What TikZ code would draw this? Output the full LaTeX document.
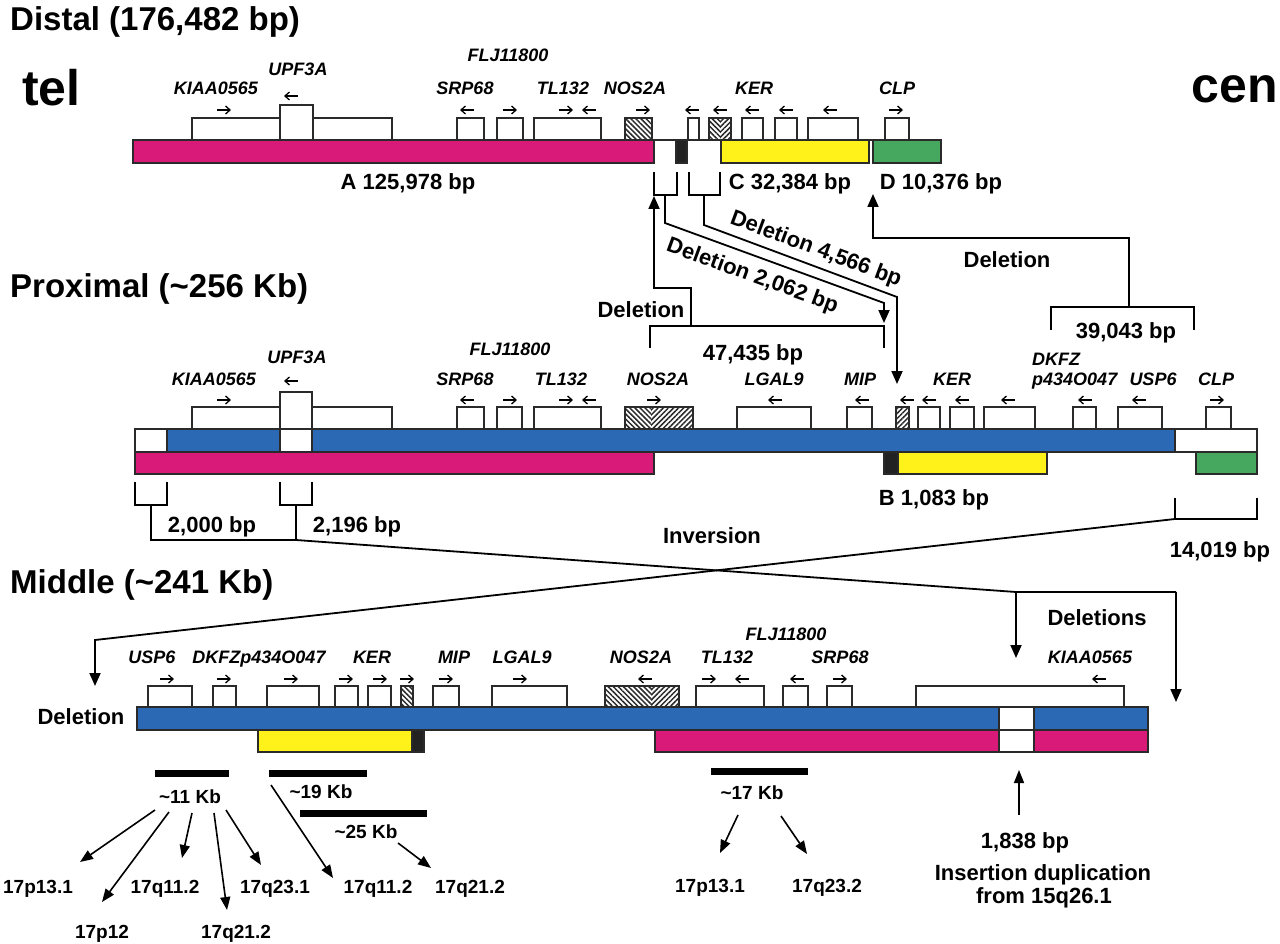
\documentclass[tikz,border=0pt]{standalone}
\usepackage{fontspec}
\setmainfont{Liberation Sans}
\usetikzlibrary{arrows.meta,patterns.meta}
\definecolor{mag}{HTML}{DA1A78}
\definecolor{blu}{HTML}{2C69B5}
\definecolor{yel}{HTML}{FFF21A}
\definecolor{grn}{HTML}{45A85E}
\definecolor{blk}{HTML}{222222}
\definecolor{ol}{HTML}{2A2A2A}
\tikzset{
  outl/.style={draw=ol, line width=1.3pt},
  genebox/.style={outl, fill=white},
  patL/.style={pattern={Lines[angle=-45,distance=3.6pt,line width=1.5pt]}, pattern color=ol},
  patR/.style={pattern={Lines[angle=45,distance=3.6pt,line width=1.5pt]}, pattern color=ol},
  garr/.style={line width=1.3pt, -{Straight Barb[length=4.5pt,width=8pt]}},
  glabel/.style={font=\bfseries\itshape\fontsize{18}{20}\selectfont, anchor=base, inner sep=0pt},
  numlabel/.style={font=\bfseries\fontsize{22}{24}\selectfont, anchor=base, inner sep=0pt},
  smlabel/.style={font=\bfseries\fontsize{19}{21}\selectfont, anchor=base, inner sep=0pt},
  ttl/.style={font=\bfseries\fontsize{33}{36}\selectfont, anchor=base west, inner sep=0pt},
  bigtxt/.style={font=\bfseries\fontsize{50}{54}\selectfont, inner sep=0pt},
  conn/.style={line width=1.8pt, black},
  tipped/.style={conn, -{Triangle[length=13pt,width=11pt]}},
  thinarr/.style={line width=1.6pt, -{Triangle[length=13pt,width=10pt]}},
  kbbar/.style={line width=7pt},
}
\newcommand\arrR[2]{\draw[garr] (#1-7,#2) -- (#1+7,#2);}
\newcommand\arrL[2]{\draw[garr] (#1+7,#2) -- (#1-7,#2);}
\begin{document}
\begin{tikzpicture}[x=1pt,y=-1pt]
\useasboundingbox (0,0) rectangle (1280,944);
\fill[white] (0,0) rectangle (1280,944);

% ================= DISTAL =================
\node[ttl] (tDist) at (10,31) {Distal (176,482 bp)};
\node[bigtxt, anchor=base west] (tel) at (22,106) {tel};
\node[bigtxt, anchor=base east] (cen) at (1278,103) {cen};

\draw[outl, fill=mag] (133,140) rectangle (654,163);
\draw[outl, fill=blk] (676,140) rectangle (687,163);
\draw[outl, fill=yel] (721,140) rectangle (869,163);
\draw[outl, fill=grn] (873,140) rectangle (941,163);
\draw[outl] (133,140) -- (941,140);

\draw[genebox] (192,118) rectangle (392,140);
\draw[genebox] (280,105) rectangle (313,140);
\draw[genebox] (457,118) rectangle (484,140);
\draw[genebox] (497,118) rectangle (523,140);
\draw[genebox] (534,118) rectangle (601,140);
\fill[patL] (625,118) rectangle (652,140);
\draw[outl] (625,118) rectangle (652,140);
\draw[genebox] (688,118) rectangle (699,140);
\fill[patL] (709,118) rectangle (720,140);
\fill[patR] (720,118) rectangle (731,140);
\draw[outl] (709,118) rectangle (731,140);
\draw[genebox] (742,118) rectangle (763,140);
\draw[genebox] (775,118) rectangle (797,140);
\draw[genebox] (808,118) rectangle (858,140);
\draw[genebox] (885,118) rectangle (909,140);

\arrR{224}{110} \arrL{291}{96} \arrL{467}{110} \arrR{510}{110}
\arrR{566}{110} \arrL{589}{110} \arrR{643}{110} \arrL{692}{110}
\arrL{720}{110} \arrL{752}{110} \arrL{786}{110} \arrL{830}{110}
\arrR{896}{110}

\node[glabel] (dKIAA) at (216,95) {KIAA0565};
\node[glabel] (dUPF) at (298,76) {UPF3A};
\node[glabel] (dFLJ) at (508,62) {FLJ11800};
\node[glabel] (dSRP) at (465,95) {SRP68};
\node[glabel] (dTL) at (563,95) {TL132};
\node[glabel] (dNOS) at (635,95) {NOS2A};
\node[glabel] (dKER) at (754,95) {KER};
\node[glabel] (dCLP) at (897,95) {CLP};

\node[numlabel] (lA) at (408,190) {A 125,978 bp};
\node[numlabel] (lC) at (790,190) {C 32,384 bp};
\node[numlabel] (lD) at (941,190) {D 10,376 bp};

% brackets under distal
\draw[conn] (654,172) -- (654,195) -- (677,195) -- (677,172);
\draw[conn] (689,172) -- (689,195) -- (720,195) -- (720,172);
\coordinate (b1c) at (665,195);
\coordinate (b2c) at (704,195);
\coordinate (b1k) at (665,223);
\coordinate (b2k) at (704,225);
\coordinate (d2k) at (884,303);
\coordinate (d2e) at (884,323);
\coordinate (d4k) at (897,297);
\coordinate (d4e) at (897,384);
\draw[tipped] (b1c) -- (b1k) -- node[sloped, below=9pt, pos=0.43, numlabel, anchor=north] {Deletion 2,062 bp} (d2k) -- (d2e);
\draw[tipped] (b2c) -- (b2k) -- node[sloped, above=5pt, pos=0.55, numlabel, anchor=south] {Deletion 4,566 bp} (d4k) -- (d4e);

% left deletion arrow (47,435)
\coordinate (p47l) at (650,348);
\coordinate (p47r) at (884,348);
\coordinate (p47m) at (691,326);
\coordinate (up1k) at (691,288);
\coordinate (up1j) at (654,288);
\coordinate (up1e) at (654,196);
\draw[conn] (p47l) -- (650,326) -- (884,326) -- (p47r);
\draw[tipped] (p47m) -- (up1k) -- (up1j) -- (up1e);
\node[numlabel] (lDel1) at (641,317) {Deletion};
\node[numlabel] (l47) at (753,360) {47,435 bp};

% D deletion arrow (39,043)
\coordinate (p39l) at (1051,330);
\coordinate (p39r) at (1194,330);
\coordinate (p39m) at (1129,307);
\coordinate (up2k) at (1129,238);
\coordinate (up2j) at (873,238);
\coordinate (up2e) at (873,194);
\draw[conn] (p39l) -- (1051,307) -- (1194,307) -- (p39r);
\draw[tipped] (p39m) -- (up2k) -- (up2j) -- (up2e);
\node[numlabel] (lDel2) at (1007,268) {Deletion};
\node[numlabel] (l39) at (1126,338) {39,043 bp};

% ================= PROXIMAL =================
\node[ttl] (tProx) at (10,297) {Proximal (\textasciitilde256 Kb)};

\draw[outl, fill=white] (135,429) rectangle (167,452);
\draw[outl, fill=blu] (167,429) rectangle (1175,452);
\draw[outl, fill=white] (1175,429) rectangle (1257,452);
\draw[outl, fill=mag] (135,452) rectangle (654,474);
\draw[outl, fill=blk] (884,452) rectangle (898,474);
\draw[outl, fill=yel] (898,452) rectangle (1047,474);
\draw[outl, fill=grn] (1196,452) rectangle (1257,474);

\draw[genebox] (192,407) rectangle (392,429);
\draw[genebox] (280,392) rectangle (312,452);
\draw[outl] (280,429) -- (312,429);
\draw[genebox] (457,407) rectangle (484,429);
\draw[genebox] (497,407) rectangle (522,429);
\draw[genebox] (534,407) rectangle (601,429);
\fill[patL] (625,407) rectangle (651,429);
\fill[patR] (651,407) rectangle (693,429);
\draw[outl] (625,407) rectangle (693,429);
\draw[genebox] (737,407) rectangle (811,429);
\draw[genebox] (847,407) rectangle (872,429);
\fill[patR] (896,407) rectangle (909,429);
\draw[outl] (896,407) rectangle (909,429);
\draw[genebox] (918,407) rectangle (940,429);
\draw[genebox] (950,407) rectangle (974,429);
\draw[genebox] (984,407) rectangle (1035,429);
\draw[genebox] (1073,407) rectangle (1096,429);
\draw[genebox] (1118,407) rectangle (1162,429);
\draw[genebox] (1206,407) rectangle (1231,429);

\arrR{224}{400} \arrL{291}{381} \arrL{467}{400} \arrR{510}{400}
\arrR{566}{400} \arrL{589}{400} \arrR{654}{400} \arrL{775}{400}
\arrL{862}{400} \arrL{907}{400} \arrL{929}{400} \arrL{962}{400}
\arrL{1008}{400} \arrL{1085}{400} \arrL{1139}{400} \arrR{1217}{400}

\node[glabel] (pKIAA) at (214,385) {KIAA0565};
\node[glabel] (pUPF) at (297,363) {UPF3A};
\node[glabel] (pFLJ) at (510,355) {FLJ11800};
\node[glabel] (pSRP) at (465,385) {SRP68};
\node[glabel] (pTL) at (561,385) {TL132};
\node[glabel] (pNOS) at (658,385) {NOS2A};
\node[glabel] (pLGAL) at (774,385) {LGAL9};
\node[glabel] (pMIP) at (860,385) {MIP};
\node[glabel] (pKER) at (952,385) {KER};
\node[glabel, anchor=base west] (pDK1) at (1032,365) {DKFZ};
\node[glabel, anchor=base west] (pDK2) at (1032,385) {p434O047};
\node[glabel] (pUSP) at (1153,385) {USP6};
\node[glabel] (pCLP) at (1216,385) {CLP};

\node[numlabel] (lB) at (934,505) {B 1,083 bp};

% brackets under proximal & inversion
\draw[conn] (135,482) -- (135,505) -- (167,505) -- (167,482);
\draw[conn] (280,482) -- (280,505) -- (312,505) -- (312,482);
\draw[conn] (1175,498) -- (1175,519) -- (1257,519) -- (1257,498);
\coordinate (k1) at (151,505);
\coordinate (k1b) at (151,540);
\coordinate (k2) at (296,505);
\coordinate (k2b) at (296,540);
\coordinate (dl) at (1016,592);
\coordinate (dr) at (1176,592);
\coordinate (dlE) at (1016,658);
\coordinate (drE) at (1176,702);
\coordinate (k3) at (1175,519);
\coordinate (k3b) at (95,640);
\coordinate (k3E) at (95,686);
\draw[conn] (k1) -- (k1b) -- (k2b);
\draw[conn] (k2) -- (k2b) -- (dl) -- (dr);
\draw[tipped] (dl) -- (dlE);
\draw[tipped] (dr) -- (drE);
\draw[tipped] (k3) -- (k3b) -- (k3E);

\node[numlabel] (l2000) at (212,532) {2,000 bp};
\node[numlabel] (l2196) at (357,532) {2,196 bp};
\node[numlabel] (lInv) at (712,543) {Inversion};
\node[numlabel] (l14019) at (1220,557) {14,019 bp};
\node[numlabel] (lDels) at (1097,625) {Deletions};

% ================= MIDDLE =================
\node[ttl] (tMid) at (10,593) {Middle (\textasciitilde241 Kb)};
\node[numlabel] (lDel3) at (81,724) {Deletion};

\draw[outl, fill=blu] (137,707) rectangle (999,730);
\draw[outl, fill=white] (999,707) rectangle (1034,730);
\draw[outl, fill=blu] (1034,707) rectangle (1148,730);
\draw[outl, fill=mag] (655,730) rectangle (999,752);
\draw[outl, fill=white] (999,730) rectangle (1034,752);
\draw[outl, fill=mag] (1034,730) rectangle (1148,752);
\draw[outl, fill=yel] (258,730) rectangle (412,752);
\draw[outl, fill=blk] (412,730) rectangle (424,752);

\draw[genebox] (148,686) rectangle (192,707);
\draw[genebox] (213,686) rectangle (236,707);
\draw[genebox] (267,686) rectangle (319,707);
\draw[genebox] (335,686) rectangle (358,707);
\draw[genebox] (368,686) rectangle (391,707);
\fill[patL] (401,686) rectangle (413,707);
\draw[outl] (401,686) rectangle (413,707);
\draw[genebox] (433,686) rectangle (459,707);
\draw[genebox] (492,686) rectangle (567,707);
\fill[patL] (605,686) rectangle (652,707);
\fill[patR] (652,686) rectangle (679,707);
\draw[outl] (605,686) rectangle (679,707);
\draw[genebox] (696,686) rectangle (764,707);
\draw[genebox] (783,686) rectangle (808,707);
\draw[genebox] (827,686) rectangle (852,707);
\draw[genebox] (916,686) rectangle (1124,707);

\arrR{167}{679} \arrR{224}{679} \arrR{291}{679} \arrR{346}{679}
\arrR{380}{679} \arrR{407}{679} \arrR{446}{679} \arrR{520}{679}
\arrL{645}{679} \arrR{709}{679} \arrL{742}{679} \arrL{797}{679}
\arrR{840}{679} \arrL{1099}{679}

\node[glabel] (mUSP) at (152,663) {USP6};
\node[glabel] (mDK) at (259,663) {DKFZp434O047};
\node[glabel] (mKER) at (372,663) {KER};
\node[glabel] (mMIP) at (454,663) {MIP};
\node[glabel] (mLGAL) at (522,663) {LGAL9};
\node[glabel] (mNOS) at (641,663) {NOS2A};
\node[glabel] (mTL) at (727,663) {TL132};
\node[glabel] (mFLJ) at (786,640) {FLJ11800};
\node[glabel] (mSRP) at (840,663) {SRP68};
\node[glabel] (mKIAA) at (1090,663) {KIAA0565};

% ================= BOTTOM =================
\draw[kbbar] (155,773) -- (229,773);
\draw[kbbar] (269,773) -- (367,773);
\draw[kbbar] (300,813) -- (427,813);
\draw[kbbar] (711,771) -- (808,771);

\node[smlabel] (k11) at (190,803) {\textasciitilde11 Kb};
\node[smlabel] (k19) at (321,798) {\textasciitilde19 Kb};
\node[smlabel] (k25) at (366,838) {\textasciitilde25 Kb};
\node[smlabel] (k17) at (752,799) {\textasciitilde17 Kb};

\node[smlabel] (c1) at (38,893) {17p13.1};
\node[smlabel] (c2) at (165,893) {17q11.2};
\node[smlabel] (c3) at (275,893) {17q23.1};
\node[smlabel] (c4) at (378,893) {17q11.2};
\node[smlabel] (c5) at (470,893) {17q21.2};
\node[smlabel] (c6) at (102,938) {17p12};
\node[smlabel] (c7) at (236,938) {17q21.2};
\node[smlabel] (c8) at (710,892) {17p13.1};
\node[smlabel] (c9) at (827,892) {17q23.2};

\coordinate (s1) at (155,810); \coordinate (e1) at (80,862);
\coordinate (s2) at (169,812); \coordinate (e2) at (102,902);
\coordinate (s3) at (192,813); \coordinate (e3) at (182,858);
\coordinate (s4) at (214,813); \coordinate (e4) at (227,910);
\coordinate (s5) at (226,810); \coordinate (e5) at (261,865);
\coordinate (s6) at (271,785); \coordinate (e6) at (333,878);
\coordinate (s7) at (398,843); \coordinate (e7) at (431,868);
\coordinate (s8) at (738,815); \coordinate (e8) at (720,853);
\coordinate (s9) at (781,816); \coordinate (e9) at (807,854);
\coordinate (s10) at (1019,815); \coordinate (e10) at (1019,770);
\foreach \i in {1,...,10} {\draw[thinarr] (s\i) -- (e\i);}

\node[numlabel] (l1838) at (1025,848) {1,838 bp};
\node[numlabel] (lIns) at (1043,880) {Insertion duplication};
\node[numlabel] (lFrom) at (1044,903) {from 15q26.1};
\end{tikzpicture}
\end{document}
